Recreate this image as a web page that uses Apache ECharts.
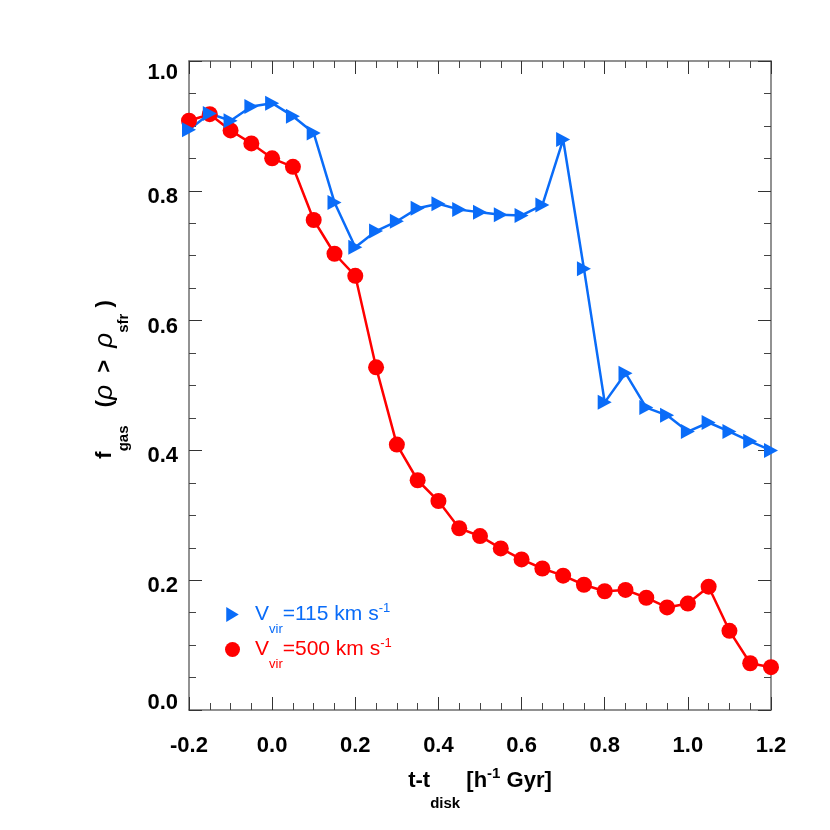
<!DOCTYPE html>
<html>
<head>
<meta charset="utf-8">
<script src="https://cdn.jsdelivr.net/npm/echarts@6/dist/echarts.min.js"></script>
<style>
  html, body {margin:0; padding:0; background:#fff;}
  #main {width:830px; height:830px;}
</style>
</head>
<body>
<div id="main"></div>
<script>
// t - t_disk in h^-1 Gyr
let tDisk = [-0.20, -0.15, -0.10, -0.05, 0.00, 0.05, 0.10, 0.15, 0.20, 0.25,
             0.30, 0.35, 0.40, 0.45, 0.50, 0.55, 0.60, 0.65, 0.70, 0.75,
             0.80, 0.85, 0.90, 0.95, 1.00, 1.05, 1.10, 1.15, 1.20];
// f_gas(rho > rho_sfr), V_vir = 115 km/s
let fgas115 = [0.894, 0.919, 0.908, 0.930, 0.935, 0.915, 0.889, 0.782, 0.713, 0.738,
               0.753, 0.773, 0.780, 0.771, 0.767, 0.763, 0.762, 0.778, 0.879, 0.680,
               0.474, 0.519, 0.466, 0.454, 0.429, 0.443, 0.429, 0.414, 0.400];
// V_vir = 500 km/s
let fgas500 = [0.908, 0.918, 0.893, 0.873, 0.850, 0.837, 0.755, 0.703, 0.669, 0.528,
               0.409, 0.354, 0.322, 0.280, 0.268, 0.249, 0.232, 0.218, 0.207, 0.193,
               0.183, 0.185, 0.173, 0.158, 0.164, 0.190, 0.122, 0.072, 0.066];

let blue = '#0a6cf8';
let red = '#ff0000';
let font = 'Liberation Sans';
let frameColor = '#6e6e6e';

let myChart = echarts.init(document.getElementById('main'));

function fmt(v) {
    if (Math.abs(v) < 1e-9) v = 0;
    return v.toFixed(1);
}

// y labels sit a little off their ticks in the original
function fmtY(v) {
    let s = fmt(v);
    if (s === '0.0') return '{z|' + s + '}';
    if (s === '1.0') return '{t|' + s + '}';
    return '{n|' + s + '}';
}

// shared look of the four frame sides
function side(extra) {
    let base = {
        type: 'value',
        axisLine: {show: true, onZero: false, lineStyle: {color: frameColor, width: 1.5}},
        axisTick: {show: true, inside: true, length: 13, lineStyle: {color: '#333', width: 1}},
        minorTick: {show: true, splitNumber: 4, length: 7, lineStyle: {color: '#444', width: 1}},
        splitLine: {show: false},
        minorSplitLine: {show: false}
    };
    return Object.assign(base, extra);
}

let lbl = {fontSize: 22, fontWeight: 'bold', color: '#000', fontFamily: font};

let option = {
    animation: false,
    backgroundColor: '#fff',
    textStyle: {fontFamily: font},
    grid: {left: 189, right: 59, top: 61, bottom: 120},
    xAxis: [
        side({
            position: 'bottom', min: -0.2, max: 1.2, interval: 0.2,
            axisLabel: Object.assign({formatter: fmt, margin: 25}, lbl),
            name: '{m|t-t}{s|disk}{m| [h}{p|-1}{m| Gyr]}',
            nameLocation: 'middle',
            nameGap: 40,
            nameTextStyle: {
                fontFamily: font, color: '#000',
                rich: {
                    m: {fontSize: 22, fontWeight: 'bold', fontFamily: font, color: '#000'},
                    s: {fontSize: 15, fontWeight: 'bold', fontFamily: font, color: '#000', padding: [46, 0, 0, 0]},
                    p: {fontSize: 15, fontWeight: 'bold', fontFamily: font, color: '#000', padding: [0, 0, 14, 0]}
                }
            }
        }),
        side({
            position: 'top', min: -0.2, max: 1.2, interval: 0.2,
            axisLabel: {show: false}
        })
    ],
    yAxis: [
        side({
            position: 'left', min: 0, max: 1, interval: 0.2,
            axisLabel: {
                formatter: fmtY, margin: 11,
                rich: {
                    n: Object.assign({padding: [12, 0, 0, 0]}, lbl),
                    z: Object.assign({padding: [0, 0, 14, 0]}, lbl),
                    t: Object.assign({padding: [24, 0, 0, 0]}, lbl)
                }
            },
            name: '{m|  f}{s|gas}{m|   (}{g|ρ}{m|  >  }{g|ρ}{s|sfr}{m| )}',
            nameLocation: 'middle',
            nameRotate: 90,
            nameGap: 58,
            nameTextStyle: {
                fontFamily: font, color: '#000',
                rich: {
                    m: {fontSize: 22, fontWeight: 'bold', fontFamily: font, color: '#000'},
                    g: {fontSize: 26, fontFamily: font, fontStyle: 'italic', color: '#000'},
                    s: {fontSize: 15, fontWeight: 'bold', fontFamily: font, color: '#000', padding: [38, 0, 0, 0]}
                }
            }
        }),
        side({
            position: 'right', min: 0, max: 1, interval: 0.2,
            axisLabel: {show: false}
        })
    ],
    legend: {
        orient: 'vertical',
        left: 220,
        top: 597,
        itemGap: 1,
        itemWidth: 15,
        itemHeight: 15,
        symbolRotate: 0,
        data: [
            {name: 'v115', icon: 'path://M0,0L10,6L0,12Z'},
            {name: 'v500', icon: 'circle'}
        ],
        formatter: function (name) {
            if (name === 'v115') return '{gap| }{b|V}{bs|vir}{b|=115 km s}{bp|-1}';
            return '{gap| }{r|V}{rs|vir}{r|=500 km s}{rp|-1}';
        },
        textStyle: {
            fontFamily: font,
            rich: {
                gap: {width: 10, fontSize: 21},
                b: {fontSize: 21, color: blue, fontFamily: font},
                bs: {fontSize: 13, color: blue, fontFamily: font, padding: [30, 0, 0, 0]},
                bp: {fontSize: 13, color: blue, fontFamily: font, padding: [0, 0, 12, 0]},
                r: {fontSize: 21, color: red, fontFamily: font},
                rs: {fontSize: 13, color: red, fontFamily: font, padding: [30, 0, 0, 0]},
                rp: {fontSize: 13, color: red, fontFamily: font, padding: [0, 0, 12, 0]}
            }
        }
    },
    series: [
        {
            name: 'v500',
            type: 'line',
            data: tDisk.map((t, i) => [t, fgas500[i]]),
            symbol: 'circle',
            symbolSize: 16,
            color: red,
            lineStyle: {color: red, width: 2.5},
            itemStyle: {color: red}
        },
        {
            name: 'v115',
            type: 'line',
            data: tDisk.map((t, i) => [t, fgas115[i]]),
            symbol: 'triangle',
            symbolSize: [15, 14],
            symbolRotate: -90,
            color: blue,
            lineStyle: {color: blue, width: 2.5},
            itemStyle: {color: blue}
        }
    ]
};

myChart.setOption(option);
window.onresize = myChart.resize;
</script>
</body>
</html>
